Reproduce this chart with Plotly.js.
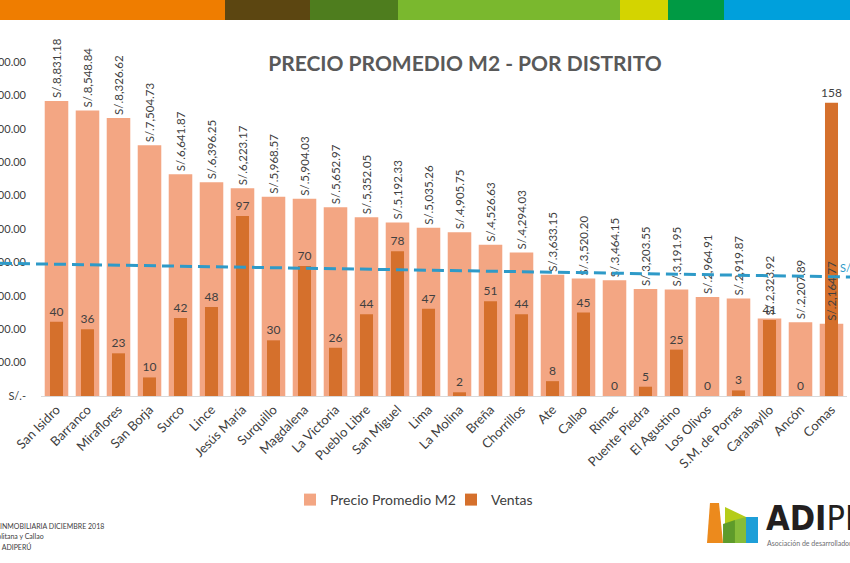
<!DOCTYPE html>
<html>
<head>
<meta charset="utf-8">
<script src="https://cdn.plot.ly/plotly-3.0.1.min.js"></script>
<style>
  html, body { margin: 0; padding: 0; background: #fff; }
  #grafico { width: 850px; height: 563px; }
</style>
</head>
<body>
<div id="grafico"></div>
<script>
// Datos del gráfico
const distritos = ['San Isidro', 'Barranco', 'Miraflores', 'San Borja', 'Surco', 'Lince', 'Jesús María',
    'Surquillo', 'Magdalena', 'La Victoria', 'Pueblo Libre', 'San Miguel', 'Lima', 'La Molina', 'Breña',
    'Chorrillos', 'Ate', 'Callao', 'Rimac', 'Puente Piedra', 'El Agustino', 'Los Olivos', 'S.M. de Porras',
    'Carabayllo', 'Ancón', 'Comas'];
const precioM2 = [8831.18, 8548.84, 8326.62, 7504.73, 6641.87, 6396.25, 6223.17, 5968.57, 5904.03, 5652.97,
    5352.05, 5192.33, 5035.26, 4905.75, 4526.63, 4294.03, 3633.15, 3520.20, 3464.15, 3203.55, 3191.95,
    2964.91, 2919.87, 2323.92, 2207.89, 2164.77];
const ventas = [40, 36, 23, 10, 42, 48, 97, 30, 70, 26, 44, 78, 47, 2, 51, 44, 8, 45, 0, 5, 25, 0, 3, 41, 0, 158];
// Línea de promedio (valor al inicio y al final)
const lineaPromedio = [3973, 3563];
const ticksPrecio = [0, 1000, 2000, 3000, 4000, 5000, 6000, 7000, 8000, 9000, 10000];
const notasPie = ['INMOBILIARIA DICIEMBRE 2018', 'Lima Metropolitana y Callao', 'Fuente: ADIPERÚ'];

// Medidas de la página
const W = 850, H = 563;
const margen = { l: 41, r: 3, t: 62, b: 167 };
const anchoPlot = W - margen.l - margen.r;
const altoPlot = H - margen.t - margen.b;

// Pasar pixeles a coordenadas 'paper'
function px(x) { return (x - margen.l) / anchoPlot; }
function py(y) { return (H - margen.b - y) / altoPlot; }

function formatoSoles(v) {
    if (v === 0) return 'S/.-';
    return 'S/.' + v.toLocaleString('en-US', { minimumFractionDigits: 2, maximumFractionDigits: 2 });
}

const fuente = 'Lato, "Open Sans", sans-serif';

// Barras de precio
const tracePrecio = {
    x: distritos,
    y: precioM2,
    type: 'bar',
    name: 'Precio Promedio M2',
    width: 0.76,
    marker: { color: '#F3A683' },
    hoverinfo: 'x+y'
};

// Barras de ventas (eje secundario)
const traceVentas = {
    x: distritos,
    y: ventas,
    type: 'bar',
    name: 'Ventas',
    yaxis: 'y2',
    width: 0.42,
    marker: { color: '#D5702C' },
    text: ventas.map(v => String(v)),
    textposition: 'outside',
    textfont: { family: fuente, size: 12, color: '#404040' },
    constraintext: 'none',
    cliponaxis: false
};

// Etiquetas de precio por encima de todo
const traceEtiquetas = {
    x: distritos,
    y: precioM2,
    type: 'bar',
    yaxis: 'y3',
    width: 0.76,
    showlegend: false,
    hoverinfo: 'skip',
    marker: { color: 'rgba(0,0,0,0)' },
    text: precioM2.map(formatoSoles),
    textposition: 'outside',
    textangle: -90,
    textfont: { family: fuente, size: 11.5, color: '#404040' },
    constraintext: 'none',
    cliponaxis: false
};

// Franja de colores superior
const franja = [
    { x0: 0, x1: 225, c: '#EF7D00' },
    { x0: 225, x1: 310, c: '#5C4611' },
    { x0: 310, x1: 398, c: '#4E7D1E' },
    { x0: 398, x1: 620, c: '#7AB82E' },
    { x0: 620, x1: 668, c: '#D4D400' },
    { x0: 668, x1: 724, c: '#009A44' },
    { x0: 724, x1: 850, c: '#00A0DC' }
];

const shapes = franja.map(s => ({
    type: 'rect', xref: 'paper', yref: 'paper',
    x0: px(s.x0), x1: px(s.x1), y0: py(20), y1: py(0),
    fillcolor: s.c, line: { width: 0 }, layer: 'above'
}));

// Línea punteada de promedio
shapes.push({
    type: 'line', xref: 'paper', yref: 'y',
    x0: px(0), x1: px(W), y0: lineaPromedio[0], y1: lineaPromedio[1],
    line: { color: '#2E9AC8', width: 3, dash: '12px,6px' },
    layer: 'above'
});

// Logo ADIPERÚ (edificios)
function poligono(puntos, color) {
    const d = puntos.map((p, i) => (i === 0 ? 'M' : 'L') + px(p[0]).toFixed(4) + ',' + py(p[1]).toFixed(4)).join(' ') + ' Z';
    return { type: 'path', xref: 'paper', yref: 'paper', path: d, fillcolor: color, line: { width: 0 }, layer: 'above' };
}
shapes.push(poligono([[707, 543], [710, 503], [719, 503], [723, 543]], '#EC8A1D'));
shapes.push(poligono([[725, 543], [725, 507], [746, 517], [746, 543]], '#B5CC18'));
shapes.push(poligono([[723, 543], [723, 524], [735, 520], [735, 543]], '#5E9B2B'));
shapes.push(poligono([[735, 543], [735, 520], [746, 517], [746, 543]], '#86BC3A'));
shapes.push(poligono([[746, 543], [746, 517], [758, 517], [758, 543]], '#1E9FD8'));

const annotations = [
    {
        xref: 'paper', yref: 'paper', x: px(838), y: py(267), xanchor: 'left', yanchor: 'middle',
        text: 'S/.', showarrow: false, font: { family: fuente, size: 11, color: '#2E9AC8' }
    },
    {
        xref: 'paper', yref: 'paper', x: px(764), y: py(518), xanchor: 'left', yanchor: 'middle',
        text: '<b>ADI</b>PERÚ', showarrow: false,
        font: { family: '"Liberation Sans Narrow", "DejaVu Sans Condensed", sans-serif', size: 34, color: '#231F20' }
    },
    {
        xref: 'paper', yref: 'paper', x: px(765), y: py(543), xanchor: 'left', yanchor: 'middle',
        text: 'Asociación de desarrolladores inmobiliarios', showarrow: false,
        font: { family: fuente, size: 7, color: '#6D6E71' }
    }
];

// Notas al pie (cortadas a la izquierda)
const finNotas = [106, 46, 33];
const yNotas = [526, 536, 546];
notasPie.forEach((t, i) => {
    annotations.push({
        xref: 'paper', yref: 'paper', x: px(finNotas[i]), y: py(yNotas[i]), xanchor: 'right', yanchor: 'middle',
        text: t, showarrow: false, font: { family: fuente, size: 7, color: '#404040' }
    });
});

const layout = {
    width: W,
    height: H,
    margin: margen,
    paper_bgcolor: '#FFFFFF',
    plot_bgcolor: '#FFFFFF',
    barmode: 'overlay',
    font: { family: fuente, color: '#404040' },
    title: {
        text: 'PRECIO PROMEDIO M2 - POR DISTRITO',
        font: { family: fuente, size: 21, color: '#595959', weight: 'bold' },
        xref: 'paper', x: px(465), xanchor: 'center',
        yref: 'container', y: 1 - 64 / H, yanchor: 'middle'
    },
    xaxis: {
        type: 'category',
        tickangle: -45,
        tickfont: { family: fuente, size: 13, color: '#404040' },
        showline: true,
        linecolor: '#D9D9D9',
        linewidth: 1,
        ticks: '',
        showgrid: false,
        zeroline: false
    },
    yaxis: {
        range: [0, 10000],
        tickvals: ticksPrecio,
        ticktext: ticksPrecio.map(formatoSoles),
        tickfont: { family: fuente, size: 11, color: '#404040' },
        ticklabelstandoff: 14,
        showgrid: false,
        zeroline: false,
        ticks: ''
    },
    yaxis2: {
        range: [0, 180],
        overlaying: 'y',
        side: 'right',
        visible: false
    },
    yaxis3: {
        range: [0, 10000],
        overlaying: 'y',
        visible: false
    },
    legend: {
        orientation: 'h',
        x: px(290),
        xanchor: 'left',
        y: py(500),
        yanchor: 'middle',
        entrywidth: 116,
        entrywidthmode: 'pixels',
        font: { family: fuente, size: 14, color: '#404040' },
        bgcolor: 'rgba(0,0,0,0)'
    },
    shapes: shapes,
    annotations: annotations
};

Plotly.newPlot('grafico', [tracePrecio, traceVentas, traceEtiquetas], layout, { displayModeBar: false, responsive: false });
</script>
</body>
</html>
